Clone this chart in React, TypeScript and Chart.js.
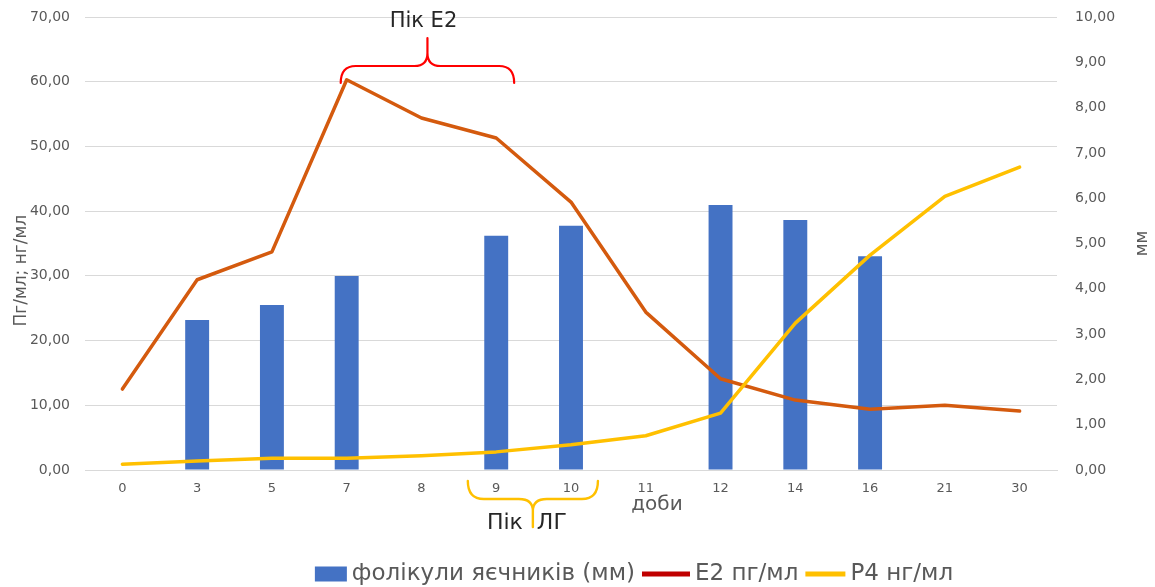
import React, { useEffect, useRef } from "react";
import { Chart, registerables } from "chart.js";

Chart.register(...registerables);

const days = ["0", "3", "5", "7", "8", "9", "10", "11", "12", "14", "16", "21", "30"];
const follicles = [null, 3.31, 3.64, 4.28, null, 5.17, 5.39, null, 5.85, 5.52, 4.72, null, null];
const e2 = [12.5, 29.4, 33.7, 60.3, 54.4, 51.3, 41.4, 24.4, 14.1, 10.8, 9.4, 10.0, 9.1];
const p4 = [0.9, 1.4, 1.8, 1.8, 2.2, 2.8, 3.9, 5.3, 8.8, 22.7, 33.2, 42.3, 46.8];

const seriesNames = ["фолікули яєчників (мм)", "E2 пг/мл", "P4 нг/мл"];
const leftTitle = "Пг/мл; нг/мл";
const rightTitle = "мм";
const xTitle = "доби";
const peakE2 = "Пік Е2";
const peakLH = "Пік  ЛГ";

const FONT = "'DejaVu Sans', sans-serif";
const GRAY = "#595959";
const BLUE = "#4472C4";
const ORANGE = "#D45A0E";
const RED_LEGEND = "#C00000";
const YELLOW = "#FFC000";

const fmt = (v: number) => Number(v).toFixed(2).replace(".", ",");

const overlay = {
  id: "overlay",
  afterDraw(chart: any) {
    const { ctx, chartArea, scales } = chart;
    const x = scales.x;
    const step = x.getPixelForValue(1) - x.getPixelForValue(0);
    ctx.save();

    // axis titles
    ctx.fillStyle = GRAY;
    ctx.textAlign = "center";
    ctx.textBaseline = "middle";
    ctx.font = `17px ${FONT}`;
    ctx.save();
    ctx.translate(22, chartArea.top + (chartArea.bottom - chartArea.top) * 0.56);
    ctx.rotate(-Math.PI / 2);
    ctx.fillText(leftTitle, 0, 0);
    ctx.restore();
    ctx.save();
    ctx.translate(1143, chartArea.top + (chartArea.bottom - chartArea.top) * 0.5);
    ctx.rotate(-Math.PI / 2);
    ctx.fillText(rightTitle, 0, 0);
    ctx.restore();

    ctx.font = `20px ${FONT}`;
    ctx.fillText(xTitle, x.getPixelForValue(7) + 0.15 * step, chartArea.bottom + 35);

    // E2 peak brace (red)
    const L = x.getPixelForValue(3) - 0.08 * step;
    const R = x.getPixelForValue(5) + 0.24 * step;
    const C = (L + R) / 2;
    const yArm = 66, yEnd = 83, yTip = 38;
    ctx.strokeStyle = "#FF0000";
    ctx.lineWidth = 2.2;
    ctx.lineCap = "round";
    ctx.beginPath();
    ctx.moveTo(L, yEnd);
    ctx.quadraticCurveTo(L, yArm, L + 15, yArm);
    ctx.lineTo(C - 13, yArm);
    ctx.quadraticCurveTo(C, yArm, C, yArm - 13);
    ctx.lineTo(C, yTip);
    ctx.moveTo(C, yArm - 13);
    ctx.quadraticCurveTo(C, yArm, C + 13, yArm);
    ctx.lineTo(R - 15, yArm);
    ctx.quadraticCurveTo(R, yArm, R, yEnd);
    ctx.stroke();

    ctx.fillStyle = "#262626";
    ctx.font = `21px ${FONT}`;
    ctx.fillText(peakE2, C - 4, 22);

    // LH peak brace (yellow)
    const L2 = x.getPixelForValue(5) - 0.38 * step;
    const R2 = x.getPixelForValue(6) + 0.36 * step;
    const C2 = (L2 + R2) / 2;
    const yTop = 481, yArm2 = 499, yTip2 = 527;
    ctx.strokeStyle = YELLOW;
    ctx.lineWidth = 2.4;
    ctx.beginPath();
    ctx.moveTo(L2, yTop);
    ctx.quadraticCurveTo(L2, yArm2, L2 + 16, yArm2);
    ctx.lineTo(C2 - 14, yArm2);
    ctx.quadraticCurveTo(C2, yArm2, C2, yArm2 + 12);
    ctx.lineTo(C2, yTip2);
    ctx.moveTo(C2, yArm2 + 12);
    ctx.quadraticCurveTo(C2, yArm2, C2 + 14, yArm2);
    ctx.lineTo(R2 - 16, yArm2);
    ctx.quadraticCurveTo(R2, yArm2, R2, yTop);
    ctx.stroke();

    ctx.fillStyle = "#262626";
    ctx.font = `22px ${FONT}`;
    ctx.fillText(peakLH, C2 - 6, 523);

    // legend
    const ds = chart.data.datasets;
    ctx.font = `23px ${FONT}`;
    ctx.textAlign = "left";
    const markers = [
      { w: 32, h: 15, color: BLUE },
      { w: 48, h: 5, color: RED_LEGEND },
      { w: 40, h: 5, color: YELLOW },
    ];
    const gapIn = 5, gapOut = 7;
    let total = 0;
    ds.forEach((d: any, i: number) => {
      total += markers[i].w + gapIn + ctx.measureText(d.label).width + (i < ds.length - 1 ? gapOut : 0);
    });
    let cx = 634 - total / 2;
    const cy = 574;
    ds.forEach((d: any, i: number) => {
      const m = markers[i];
      ctx.fillStyle = m.color;
      ctx.fillRect(cx, cy - m.h / 2, m.w, m.h);
      cx += m.w + gapIn;
      ctx.fillStyle = GRAY;
      ctx.fillText(d.label, cx, cy);
      cx += ctx.measureText(d.label).width + gapOut;
    });

    ctx.restore();
  },
};

export default function App() {
  const ref = useRef<HTMLCanvasElement | null>(null);

  useEffect(() => {
    if (!ref.current) return;
    const chart = new Chart(ref.current, {
      type: "bar",
      data: {
        labels: days,
        datasets: [
          {
            type: "bar",
            label: seriesNames[0],
            data: follicles,
            backgroundColor: BLUE,
            yAxisID: "yR",
            barPercentage: 0.32,
            categoryPercentage: 1,
            order: 3,
          },
          {
            type: "line",
            label: seriesNames[1],
            data: e2,
            borderColor: ORANGE,
            backgroundColor: ORANGE,
            borderWidth: 3.5,
            pointRadius: 0,
            borderCapStyle: "round",
            borderJoinStyle: "round",
            yAxisID: "y",
            order: 2,
          },
          {
            type: "line",
            label: seriesNames[2],
            data: p4,
            borderColor: YELLOW,
            backgroundColor: YELLOW,
            borderWidth: 3.5,
            pointRadius: 0,
            borderCapStyle: "round",
            borderJoinStyle: "round",
            yAxisID: "y",
            order: 1,
          },
        ],
      } as any,
      options: {
        animation: false,
        responsive: false,
        maintainAspectRatio: false,
        layout: { padding: { top: 17, left: 0, right: 0, bottom: 0 } },
        plugins: {
          legend: { display: false },
          tooltip: { enabled: false },
        },
        scales: {
          x: {
            offset: true,
            grid: { display: false, drawTicks: false },
            border: { display: true, color: "#D9D9D9" },
            ticks: { color: GRAY, font: { family: FONT, size: 13 }, padding: 11, maxRotation: 0 },
            afterFit: (s: any) => { s.height = 117; },
          },
          y: {
            position: "left",
            min: 0,
            max: 70,
            ticks: { stepSize: 10, color: GRAY, font: { family: FONT, size: 14 }, padding: 15, callback: (v: any) => fmt(v) },
            grid: { color: "#D9D9D9", drawTicks: false },
            border: { display: false },
            afterFit: (s: any) => { s.width = 85; s.paddingTop = 0; s.paddingBottom = 0; },
          },
          yR: {
            position: "right",
            min: 0,
            max: 10,
            ticks: { stepSize: 1, color: GRAY, font: { family: FONT, size: 14 }, padding: 18, callback: (v: any) => fmt(v) },
            grid: { drawOnChartArea: false, drawTicks: false },
            border: { display: false },
            afterFit: (s: any) => { s.width = 98; s.paddingTop = 0; s.paddingBottom = 0; },
          },
        },
      } as any,
      plugins: [overlay],
    });
    return () => chart.destroy();
  }, []);

  return (
    <div style={{ position: "fixed", left: 0, top: 0, width: 1155, height: 587, background: "#fff" }}>
      <canvas ref={ref} width={1155} height={587} style={{ display: "block", width: 1155, height: 587 }} />
    </div>
  );
}
